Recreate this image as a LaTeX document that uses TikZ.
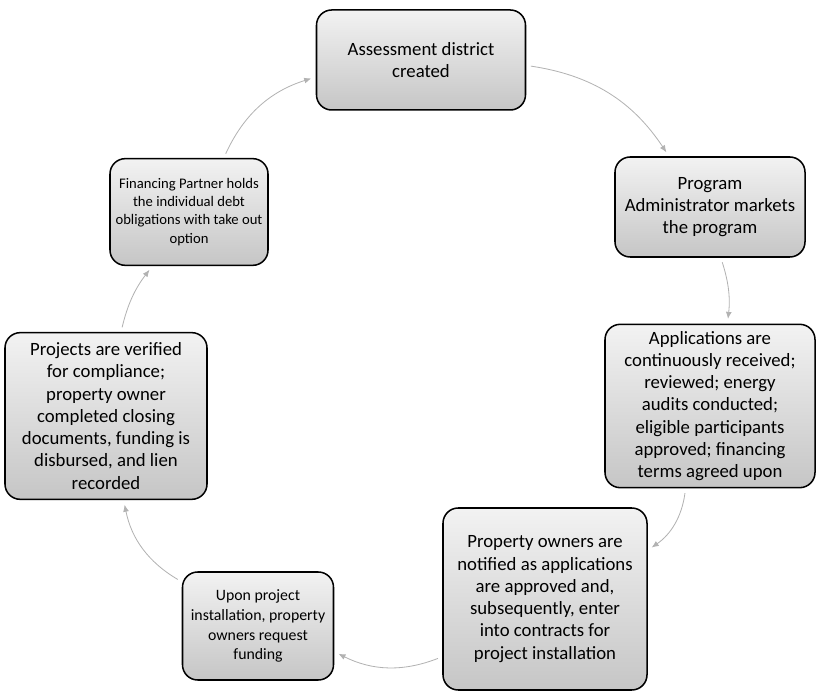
\documentclass[tikz,border=0pt]{standalone}
\usepackage{fontspec}
\setmainfont{Carlito}
\usetikzlibrary{arrows.meta}

\begin{document}
\begin{tikzpicture}[
  stagebox/.style={draw, line width=1.3pt, rounded corners=13pt, top color=gray!10, bottom color=gray!45,
    align=center, inner sep=2pt, font=\fontsize{16}{19}\selectfont},
  cyclearc/.style={draw=gray!60, line width=0.7pt, -{Latex[length=6pt,width=5pt]},
    shorten <=4pt, shorten >=4pt}]
  \useasboundingbox (0,0) rectangle (24.66,20.94);
  \node[stagebox, minimum width=6.27cm, minimum height=3cm] (assess) at (12.63,19.14)
    {Assessment district\\created};
  \node[stagebox, minimum width=5.7cm, minimum height=3cm] (market) at (21.30,14.73)
    {Program\\Administrator markets\\the program};
  \node[stagebox, minimum width=6.3cm, minimum height=4.9cm] (apply) at (21.30,8.76)
    {Applications are\\continuously received;\\reviewed; energy\\audits conducted;\\eligible participants\\approved; financing\\terms agreed upon};
  \node[stagebox, minimum width=6.12cm, minimum height=5.46cm] (notify) at (16.35,2.97)
    {Property owners are\\notified as applications\\are approved and,\\subsequently, enter\\into contracts for\\project installation};
  \node[stagebox, minimum width=4.53cm, minimum height=3.24cm, font=\fontsize{13.5}{17}\selectfont] (install) at (7.74,2.16)
    {Upon project\\installation, property\\owners request\\funding};
  \node[stagebox, minimum width=6.06cm, minimum height=5cm] (verify) at (3.18,8.46)
    {Projects are verified\\for compliance;\\property owner\\completed closing\\documents, funding is\\disbursed, and lien\\recorded};
  \node[stagebox, minimum width=4.74cm, minimum height=3.2cm, font=\fontsize{12.5}{15.5}\selectfont] (partner) at (5.67,14.58)
    {Financing Partner holds\\the individual debt\\obligations with take out\\option};

  \draw[cyclearc] (assess) to[bend left=24] (market);
  \draw[cyclearc] (market) to[bend left=12] (apply);
  \draw[cyclearc] (apply) to[bend left=24] (notify);
  \draw[cyclearc] (notify) to[bend left=24] (install);
  \draw[cyclearc] (install) to[bend left=24] (verify);
  \draw[cyclearc] (verify) to[bend left=12] (partner);
  \draw[cyclearc] (partner) to[bend left=24] (assess);
\end{tikzpicture}
\end{document}
